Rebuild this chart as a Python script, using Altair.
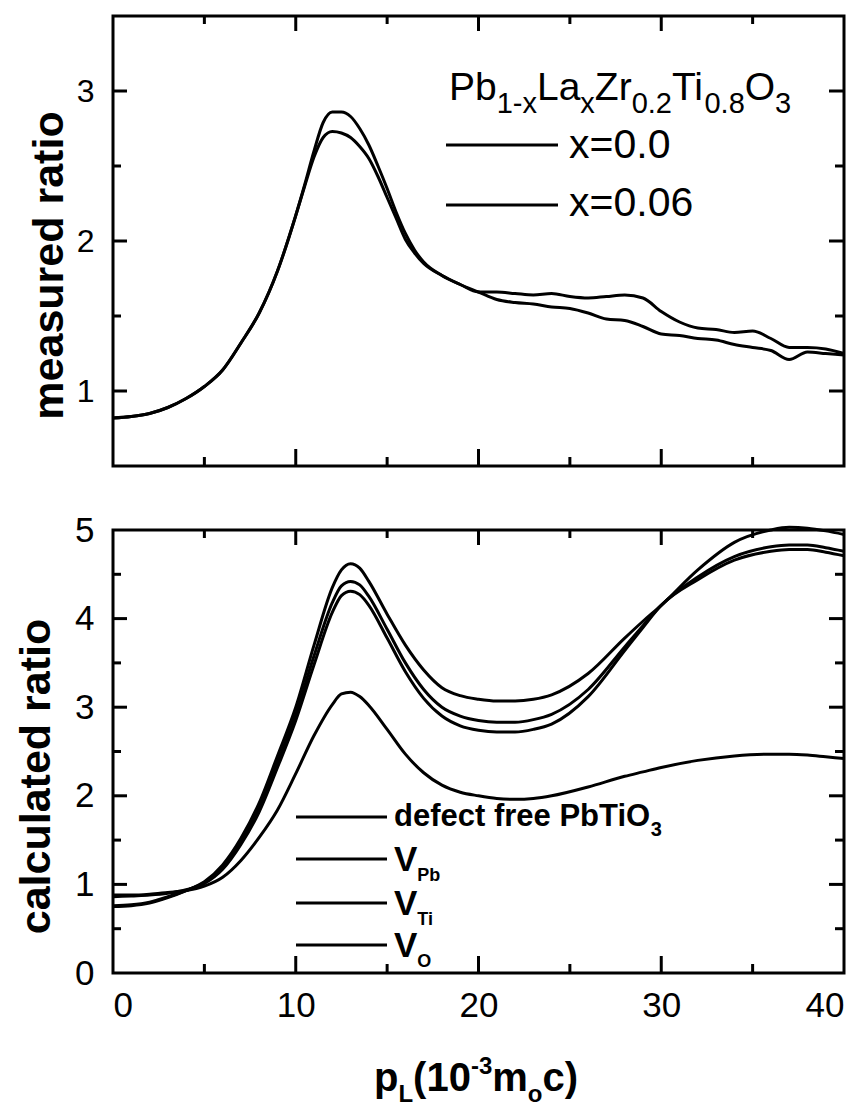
import altair as alt
import pandas as pd

# ---------------- data ----------------
top_x = [0, 1, 2, 3, 4, 5, 6, 7, 8, 9, 10, 10.5, 11, 11.5, 12, 12.5, 13, 13.5, 14, 14.5, 15, 15.5, 16, 16.5,
         17, 18, 19, 20, 21, 22, 23, 24, 25, 26, 27, 28, 29, 30, 31, 32, 33, 34, 35, 36, 37, 38, 39, 40]
x00 = [0.82, 0.83, 0.85, 0.89, 0.95, 1.03, 1.14, 1.32, 1.52, 1.80, 2.17, 2.38, 2.60, 2.79, 2.86, 2.86, 2.83,
       2.75, 2.64, 2.50, 2.35, 2.19, 2.05, 1.94, 1.86, 1.77, 1.71, 1.66, 1.66, 1.65, 1.64, 1.65, 1.63, 1.62,
       1.63, 1.64, 1.62, 1.53, 1.46, 1.42, 1.41, 1.39, 1.40, 1.35, 1.29, 1.29, 1.28, 1.25]
x006 = [0.82, 0.83, 0.85, 0.89, 0.95, 1.03, 1.14, 1.32, 1.52, 1.80, 2.17, 2.37, 2.56, 2.69, 2.73, 2.72, 2.69,
        2.63, 2.55, 2.43, 2.29, 2.15, 2.01, 1.92, 1.85, 1.77, 1.71, 1.66, 1.61, 1.59, 1.58, 1.56, 1.55, 1.52,
        1.48, 1.47, 1.43, 1.38, 1.37, 1.35, 1.34, 1.31, 1.29, 1.27, 1.21, 1.26, 1.25, 1.24]

bot_x = [0, 1, 2, 3, 4, 5, 6, 7, 8, 9, 10, 11, 12, 12.5, 13, 13.5, 14, 15, 16, 17, 18, 19, 20, 21, 22, 23, 24,
         26, 28, 29, 30, 32, 34, 36, 37, 38, 39, 40]
defect_free = [0.88, 0.88, 0.89, 0.91, 0.93, 0.98, 1.08, 1.27, 1.53, 1.84, 2.25, 2.68, 3.03, 3.15, 3.17, 3.12,
               3.02, 2.75, 2.47, 2.26, 2.12, 2.04, 2.00, 1.97, 1.96, 1.97, 2.00, 2.10, 2.22, 2.27, 2.32, 2.40,
               2.45, 2.47, 2.47, 2.46, 2.44, 2.42]
v_pb = [0.75, 0.76, 0.79, 0.85, 0.93, 1.03, 1.22, 1.52, 1.92, 2.45, 3.00, 3.70, 4.35, 4.55, 4.62, 4.57, 4.42,
        4.05, 3.70, 3.42, 3.22, 3.13, 3.09, 3.07, 3.07, 3.09, 3.14, 3.38, 3.78, 3.97, 4.15, 4.55, 4.86, 5.00,
        5.03, 5.02, 4.99, 4.95]
v_ti = [0.76, 0.77, 0.80, 0.86, 0.93, 1.02, 1.20, 1.49, 1.87, 2.38, 2.92, 3.58, 4.18, 4.37, 4.42, 4.38, 4.25,
        3.88, 3.50, 3.20, 3.00, 2.90, 2.85, 2.83, 2.83, 2.86, 2.92, 3.20, 3.68, 3.92, 4.15, 4.47, 4.70, 4.81,
        4.83, 4.83, 4.80, 4.76]
v_o = [0.86, 0.87, 0.88, 0.90, 0.94, 1.01, 1.17, 1.45, 1.82, 2.32, 2.85, 3.48, 4.07, 4.26, 4.31, 4.27, 4.15,
       3.78, 3.40, 3.10, 2.90, 2.79, 2.74, 2.72, 2.72, 2.75, 2.81, 3.12, 3.64, 3.90, 4.15, 4.44, 4.66, 4.76,
       4.78, 4.78, 4.75, 4.71]

x_ticks = [0, 10, 20, 30, 40]
x_major = [10, 20, 30]
x_minor = [5, 15, 25, 35]
top_y_ticks = [1, 2, 3]
top_y_minor = [1.5, 2.5]
bot_y_ticks = [0, 1, 2, 3, 4, 5]
bot_y_major = [1, 2, 3, 4]
bot_y_minor = [0.5, 1.5, 2.5, 3.5, 4.5]

# ---------------- layout / style ----------------
FONT = "Liberation Sans, Arial, Helvetica, sans-serif"
W = 731
H_TOP = 450
H_BOT = 443

REG = {'P': 667, 'b': 556, 'L': 556, 'a': 556, 'Z': 611, 'r': 333, 'T': 611, 'i': 222, 'O': 778, 'x': 500,
       '1': 556, '-': 333, '0': 556, '.': 278, '2': 556, '8': 556, '3': 556, '=': 584, '6': 556}
BOLD = {'p': 611, 'L': 611, '(': 333, '1': 556, '0': 556, '-': 333, '3': 556, 'm': 889, 'o': 611, 'c': 556,
        ')': 333, 'd': 611, 'e': 556, 'f': 333, 't': 333, 'r': 389, ' ': 278, 'P': 667, 'b': 611, 'T': 611,
        'i': 278, 'O': 778, 'V': 667}


def text_layer(txt, x, y, size, weight="normal", font=FONT):
    return alt.Chart(pd.DataFrame({"t": [txt]})).mark_text(
        align="left", baseline="alphabetic", font=font, fontSize=size, fontWeight=weight, color="black"
    ).encode(x=alt.value(x), y=alt.value(y), text="t:N")


def rich(pieces, x0, y0, size, subsize, weight, suboff, supoff=0):
    table = BOLD if weight == "bold" else REG
    layers = []
    x = x0
    for txt, kind in pieces:
        fs = size if kind == "n" else subsize
        y = y0 + (suboff if kind == "sub" else (supoff if kind == "sup" else 0))
        layers.append(text_layer(txt, x, y, fs, weight))
        x += sum(table.get(c, 556) for c in txt) / 1000 * fs
    return layers


def hline(x1, x2, y, w=3):
    return alt.Chart(pd.DataFrame({"a": [0]})).mark_rule(color="black", strokeWidth=w).encode(
        x=alt.value(x1), x2=alt.value(x2), y=alt.value(y))


def frame_ticks(xenc, yenc, H, ymaj, ymin):
    layers = []
    for vals, L, Lb in [(x_major, 15, 17), (x_minor, 8, 9)]:
        base = alt.Chart(pd.DataFrame({"x": vals})).mark_rule(color="black", strokeWidth=3)
        layers.append(base.encode(x=xenc, y=alt.value(H), y2=alt.value(H - Lb)))
        layers.append(base.encode(x=xenc, y=alt.value(0), y2=alt.value(L)))
    for vals, L in [(ymaj, 14), (ymin, 8)]:
        base = alt.Chart(pd.DataFrame({"y": vals})).mark_rule(color="black", strokeWidth=3)
        layers.append(base.encode(y=yenc, x=alt.value(0), x2=alt.value(L)))
        layers.append(base.encode(y=yenc, x=alt.value(W), x2=alt.value(W - L - 1)))
    return layers


xscale = alt.Scale(domain=[0, 40], nice=False, zero=False)
yscale_top = alt.Scale(domain=[0.5, 3.5], nice=False, zero=False)
yscale_bot = alt.Scale(domain=[0, 5], nice=False, zero=False)

x_top = alt.X("x:Q", scale=xscale, axis=None)
y_top = alt.Y("y:Q", scale=yscale_top, axis=alt.Axis(
    values=top_y_ticks, labelFontSize=32, labelFont=FONT, labelPadding=19, ticks=False, tickSize=0,
    domain=False, grid=False, labelColor="black", title="measured ratio", titleFont=FONT,
    titleFontSize=43, titleFontWeight="bold", titleColor="black", titleAngle=270, titleX=-51,
    titleY=249, titleAlign="center", titleBaseline="alphabetic"))
x_bot = alt.X("x:Q", scale=xscale, axis=alt.Axis(
    values=x_ticks, format="d", labelFontSize=35, labelFont=FONT, labelPadding=15, ticks=False,
    tickSize=0, domain=False, grid=False, labelColor="black", title=None))
y_bot = alt.Y("y:Q", scale=yscale_bot, axis=alt.Axis(
    values=bot_y_ticks, labelFontSize=35, labelFont=FONT, labelPadding=19, ticks=False, tickSize=0,
    domain=False, grid=False, labelColor="black", title="calculated ratio", titleFont=FONT,
    titleFontSize=43, titleFontWeight="bold", titleColor="black", titleAngle=270, titleX=-64,
    titleY=246, titleAlign="center", titleBaseline="alphabetic"))

# ---------------- top panel ----------------
top_df = pd.concat([
    pd.DataFrame({"x": top_x, "y": x00, "s": "x=0.0"}),
    pd.DataFrame({"x": top_x, "y": x006, "s": "x=0.06"}),
])
top_lines = alt.Chart(top_df).mark_line(color="black", strokeWidth=3, interpolate="monotone").encode(
    x=x_top, y=y_top, detail="s:N")

top_legend = rich([("Pb", "n"), ("1-x", "sub"), ("La", "n"), ("x", "sub"), ("Zr", "n"), ("0.2", "sub"),
                   ("Ti", "n"), ("0.8", "sub"), ("O", "n"), ("3", "sub")], 336, 84, 39, 29, "normal", 13)
top_legend += [hline(333, 445, 129), text_layer("x=0.0", 456, 142, 41),
               hline(333, 445, 189), text_layer("x=0.06", 456, 200, 41)]

top = alt.layer(top_lines, *frame_ticks(x_top, y_top, H_TOP, top_y_ticks, top_y_minor), *top_legend
                ).properties(width=W, height=H_TOP)

# ---------------- bottom panel ----------------
names = ["defect free PbTiO3", "V_Pb", "V_Ti", "V_O"]
bot_df = pd.concat([
    pd.DataFrame({"x": bot_x, "y": defect_free, "s": names[0]}),
    pd.DataFrame({"x": bot_x, "y": v_pb, "s": names[1]}),
    pd.DataFrame({"x": bot_x, "y": v_ti, "s": names[2]}),
    pd.DataFrame({"x": bot_x, "y": v_o, "s": names[3]}),
])
bot_lines = alt.Chart(bot_df).mark_line(color="black", strokeWidth=3, interpolate="monotone", clip=False).encode(
    x=x_bot, y=y_bot, detail="s:N")

LX1, LX2, TX = 183, 274, 281
bot_legend = [hline(LX1, LX2, 287)]
bot_legend += rich([("defect free PbTiO", "n"), ("3", "sub")], TX, 296, 31, 20, "bold", 10)
for ly, sub in [(329, "Pb"), (373, "Ti"), (415, "O")]:
    bot_legend.append(hline(LX1, LX2, ly))
    bot_legend += rich([("V", "n"), (sub, "sub")], TX, ly + 12, 35, 18, "bold", 10)

# x axis title p_L(10^-3 m_o c)
xtitle = rich([("p", "n"), ("L", "sub"), ("(10", "n"), ("-3", "sup"), ("m", "n"), ("o", "sub"), ("c)", "n")],
              261, 561, 40, 24, "bold", 11, -17)

bottom = alt.layer(bot_lines, *frame_ticks(x_bot, y_bot, H_BOT, bot_y_major, bot_y_minor), *bot_legend,
                   *xtitle).properties(width=W, height=H_BOT)

chart = alt.vconcat(top, bottom, spacing=64, bounds="flush").properties(
    padding={"left": 5, "top": 5, "right": 0, "bottom": 0}, background="white"
).configure_view(stroke="black", strokeWidth=3)

chart.save("out.html", embed_options={"renderer": "svg", "actions": False})
